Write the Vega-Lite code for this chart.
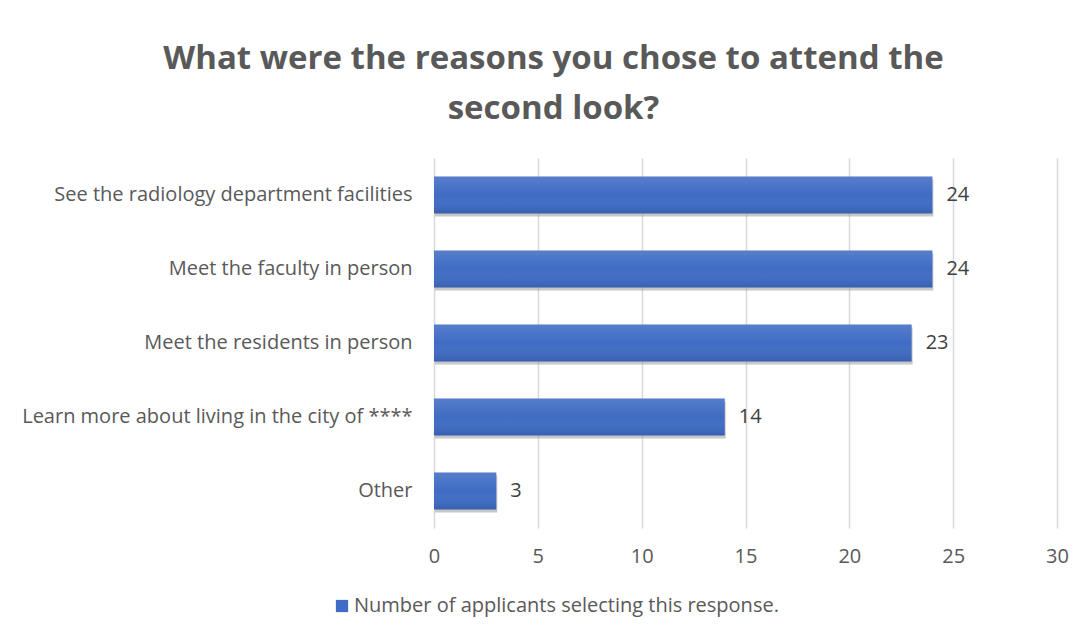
{
  "$schema": "https://vega.github.io/schema/vega-lite/v6.json",
  "autosize": {"type": "none"},
  "padding": {"left": 434, "top": 158, "right": 30, "bottom": 109},
  "width": 623,
  "height": 370,
  "background": "white",
  "config": {"view": {"stroke": null}},
  "title": {
    "text": ["What were the reasons you chose to attend the", "second look?"],
    "anchor": "middle",
    "dx": -192,
    "offset": 32,
    "font": "Open Sans",
    "fontSize": 33,
    "fontWeight": "bold",
    "color": "#595959",
    "lineHeight": 50
  },
  "data": {
    "values": [
      {"reason": "See the radiology department facilities", "count": 24, "series": "Number of applicants selecting this response."},
      {"reason": "Meet the faculty in person", "count": 24, "series": "Number of applicants selecting this response."},
      {"reason": "Meet the residents in person", "count": 23, "series": "Number of applicants selecting this response."},
      {"reason": "Learn more about living in the city of ****", "count": 14, "series": "Number of applicants selecting this response."},
      {"reason": "Other", "count": 3, "series": "Number of applicants selecting this response."}
    ]
  },
  "encoding": {
    "y": {
      "field": "reason",
      "type": "nominal",
      "sort": null,
      "scale": {"paddingInner": 0.5, "paddingOuter": 0.25},
      "axis": {
        "title": null,
        "domain": false,
        "ticks": false,
        "labelPadding": 22,
        "labelFont": "Open Sans",
        "labelFontSize": 20,
        "labelColor": "#595959",
        "labelLimit": 500
      }
    },
    "x": {
      "field": "count",
      "type": "quantitative",
      "scale": {"domain": [0, 30], "nice": false},
      "axis": {
        "title": null,
        "values": [0, 5, 10, 15, 20, 25, 30],
        "domain": false,
        "ticks": false,
        "grid": true,
        "gridColor": "#d9d9d9",
        "gridWidth": 1.5,
        "labelFlush": false,
        "labelPadding": 18,
        "labelFont": "Open Sans",
        "labelFontSize": 20,
        "labelColor": "#595959"
      }
    }
  },
  "layer": [
    {
      "mark": {"type": "bar", "color": "#9a9a9a", "opacity": 0.55, "yOffset": 3, "xOffset": 1},
      "encoding": {}
    },
    {
      "mark": {"type": "bar"},
      "encoding": {
        "color": {
          "field": "series",
          "type": "nominal",
          "scale": {"range": ["#3f6cc4"]},
          "legend": {
            "title": null,
            "orient": "none",
            "legendX": -102,
            "legendY": 438,
            "symbolType": "square",
            "symbolSize": 150,
            "labelFont": "Open Sans",
            "labelFontSize": 20,
            "labelColor": "#595959",
            "labelLimit": 600,
            "labelOffset": 2
          }
        }
      }
    },
    {
      "mark": {
        "type": "bar",
        "color": {
          "gradient": "linear",
          "x1": 0, "y1": 0, "x2": 0, "y2": 1,
          "stops": [
            {"offset": 0, "color": "rgba(255,255,255,0.12)"},
            {"offset": 0.5, "color": "rgba(255,255,255,0.0)"},
            {"offset": 1, "color": "rgba(0,0,40,0.12)"}
          ]
        }
      },
      "encoding": {}
    },
    {
      "mark": {"type": "text", "align": "left", "dx": 14, "font": "Open Sans", "fontSize": 20, "color": "#404040"},
      "encoding": {"text": {"field": "count", "type": "quantitative"}}
    }
  ]
}
